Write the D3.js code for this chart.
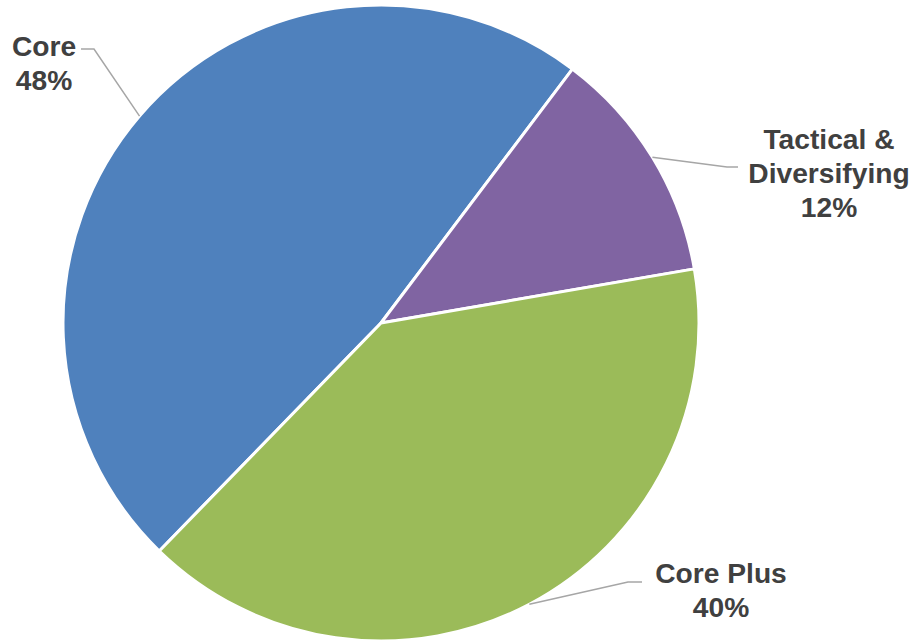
<!DOCTYPE html>
<html>
<head>
<meta charset="utf-8">
<script src="https://cdn.jsdelivr.net/npm/d3@7"></script>
<style>
  html, body { margin: 0; padding: 0; background: #ffffff; }
  svg { display: block; }
</style>
</head>
<body>
<svg id="chart" width="915" height="641"></svg>
<script>
// ---- data ----
const categories = ["Core", "Tactical & Diversifying", "Core Plus"];
const values = [48, 12, 40];
const labelLines = [["Core", "48%"], ["Tactical &", "Diversifying", "12%"], ["Core Plus", "40%"]];
const colors = ["#4f81bd", "#8064a2", "#9bbb59"];

// ---- layout ----
const W = 915, H = 641;
const cx = 381, cy = 323, R = 318;
const startDeg = -135.8;
const labelLayout = [
  { x: 44, y: 56, elbowStart: [81, 49], elbow: [94, 49] },
  { x: 829, y: 149, elbowStart: [738, 167], elbow: [727, 167] },
  { x: 721, y: 583, elbowStart: [642, 582], elbow: [628, 582] }
];
const fontSize = 28.2, lineGap = 34;

const svg = d3.select("#chart");
const g = svg.append("g").attr("transform", `translate(${cx},${cy})`);

const pie = d3.pie().sort(null).value(d => d)
  .startAngle(startDeg * Math.PI / 180)
  .endAngle((startDeg + 360) * Math.PI / 180);
const arcs = pie(values);
const arc = d3.arc().innerRadius(0).outerRadius(R);

g.selectAll("path.slice").data(arcs).enter().append("path")
  .attr("class", "slice")
  .attr("d", arc)
  .attr("fill", (d, i) => colors[i])
  .attr("stroke", "#ffffff")
  .attr("stroke-width", 3)
  .attr("stroke-linejoin", "round");

// leader lines
arcs.forEach((a, i) => {
  const mid = (a.startAngle + a.endAngle) / 2;
  const px = cx + R * Math.sin(mid);
  const py = cy - R * Math.cos(mid);
  const L = labelLayout[i];
  svg.append("polyline")
    .attr("points", [[px, py], L.elbow, L.elbowStart].map(p => p.join(",")).join(" "))
    .attr("fill", "none")
    .attr("stroke", "#a6a6a6")
    .attr("stroke-width", 1.5);
});

// labels
labelLines.forEach((lines, i) => {
  const L = labelLayout[i];
  const t = svg.append("text")
    .attr("text-anchor", "middle")
    .attr("font-family", "Liberation Sans, Arial, sans-serif")
    .attr("font-weight", "bold")
    .attr("font-size", fontSize)
    .attr("fill", "#404040");
  lines.forEach((ln, j) => {
    t.append("tspan").attr("x", L.x).attr("y", L.y + j * lineGap).text(ln);
  });
});
</script>
</body>
</html>
